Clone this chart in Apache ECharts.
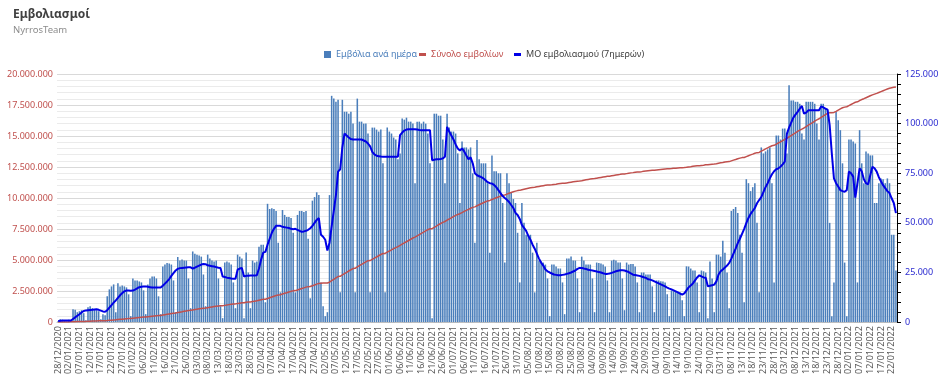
<!DOCTYPE html>
<html><head><meta charset="utf-8">
<script src="https://cdn.jsdelivr.net/npm/echarts@6/dist/echarts.min.js"></script>
<style>html,body{margin:0;padding:0;background:#fff}#c{width:945px;height:377px}</style>
</head><body><div id="c"></div>
<script>
// First date of the daily series (28/12/2020), one category per day
const START_DATE = [2020, 11, 28];

// Daily vaccinations (thousands), Monday..Sunday per row
const dailyK = [
 0.5,1.5,1.2,1.0,0.3,1.2,0.2,
 6.5,6.2,5.0,5.5,6.0,4.5,1.0,
 7.5,8.0,7.0,6.5,6.0,5.5,1.5,
 4.0,3.5,13.0,16.5,18.0,19.0,5.0,
 19.6,18.0,18.5,18.0,17.5,14.0,3.0,
 22.0,21.0,21.0,20.5,20.0,16.0,4.0,
 19.0,22.0,23.0,23.0,22.0,13.0,4.0,
 28.0,29.0,29.8,29.5,29.0,21.0,5.0,
 32.8,31.0,31.5,31.0,31.0,22.0,7.0,
 35.6,34.5,34.0,33.5,33.0,24.0,8.0,
 34.0,32.0,31.0,30.5,31.0,22.0,8.0,
 2.0,30.0,30.5,30.0,29.0,20.0,7.0,
 34.0,33.0,32.0,2.0,35.1,25.0,7.0,
 31.0,30.0,30.6,38.0,39.0,39.0,10.0,
 59.6,57.0,57.4,57.0,56.0,40.0,15.0,
 56.5,54.0,53.0,53.0,52.4,45.0,15.0,
 54.0,56.0,56.0,55.5,56.0,42.0,12.0,
 61.2,63.0,65.4,64.0,20.0,8.0,3.0,
 5.0,64.0,114.0,112.6,111.0,112.0,15.0,
 112.0,106.0,106.0,105.0,106.0,100.0,15.0,
 112.6,101.0,101.0,100.0,100.0,95.0,15.0,
 98.0,98.0,97.0,96.0,97.0,80.0,15.0,
 98.0,96.0,95.0,93.0,92.0,82.0,85.0,
 102.6,102.0,103.0,101.0,101.0,100.0,70.0,
 101.0,101.0,100.0,101.0,100.0,95.0,80.0,
 2.0,105.0,105.0,104.0,104.0,92.0,70.0,
 105.0,98.0,96.0,96.0,95.0,85.0,60.0,
 91.0,88.0,88.0,87.0,88.0,75.0,40.0,
 91.7,82.0,80.0,80.0,80.0,70.0,35.0,
 84.0,76.0,76.0,75.0,75.0,60.0,30.0,
 75.0,70.0,65.0,62.0,60.0,45.0,20.0,
 60.0,50.0,44.0,44.0,44.0,35.0,15.0,
 40.0,31.0,30.6,30.0,29.0,22.0,3.0,
 29.0,29.0,28.0,27.0,27.0,20.0,4.0,
 32.0,32.0,33.0,31.0,31.0,22.0,5.0,
 33.0,31.0,29.0,29.0,29.0,22.0,5.0,
 30.0,29.8,29.5,29.0,28.0,21.0,5.0,
 31.0,31.4,31.0,30.0,30.0,22.0,6.0,
 30.0,29.0,29.3,29.3,28.0,20.0,5.0,
 25.0,25.0,24.0,24.0,24.0,18.0,5.0,
 21.0,21.0,20.6,20.5,20.0,14.0,3.0,
 16.0,15.6,15.5,15.0,15.0,11.0,3.0,
 28.1,28.0,27.0,26.0,26.0,20.0,5.0,
 26.0,25.6,25.0,2.0,30.6,22.0,5.0,
 34.0,34.0,33.0,41.0,35.0,25.0,7.0,
 56.0,57.0,58.0,55.0,44.0,35.0,10.0,
 72.0,70.0,66.0,68.0,70.0,50.0,15.0,
 88.0,85.0,86.0,87.0,88.0,70.0,20.0,
 94.0,94.0,92.0,97.5,97.5,85.0,119.3,
 111.7,111.7,111.0,111.0,110.0,95.0,92.0,
 111.0,111.0,111.0,111.0,110.0,100.0,92.0,
 110.0,110.0,107.6,107.0,50.0,3.0,20.0,
 106.0,101.7,96.7,80.0,30.0,3.0,92.0,
 92.0,91.0,90.0,20.0,96.7,80.0,70.0,
 86.0,85.0,84.0,84.0,60.0,60.0,70.0,
 72.4,72.0,70.0,72.4,70.0,44.0,44.0,
 26.0
];

// 7-day average (thousands)
const avg7K = [
 0.5,0.7,0.8,0.8,0.8,0.8,0.8,
 1.6,2.4,3.2,4.0,4.9,5.6,5.9,
 6.0,6.1,6.2,6.4,6.5,6.2,5.8,
 5.4,5.2,6.0,7.3,8.6,9.8,10.9,
 12.2,13.5,14.6,15.5,15.9,15.9,15.8,
 15.9,16.4,17.0,17.6,17.8,17.9,18.0,
 17.8,17.6,17.4,17.4,17.5,17.4,17.4,
 18.3,19.4,20.5,21.7,23.3,24.7,26.0,
 26.8,27.2,27.3,27.4,27.5,27.6,27.6,
 27.0,27.4,28.0,28.5,29.0,29.3,29.2,
 28.6,28.4,28.2,28.0,27.7,27.4,27.3,
 23.0,22.7,22.4,22.2,22.0,21.9,21.9,
 26.4,27.0,27.3,23.0,23.3,23.4,23.5,
 23.5,23.5,23.6,27.0,31.5,35.0,35.4,
 39.0,42.0,45.0,47.0,48.5,48.6,48.5,
 48.0,47.8,47.6,47.4,47.0,46.8,47.0,
 46.5,46.0,45.5,45.7,46.0,46.5,47.3,
 48.5,50.0,51.5,52.4,44.0,43.0,41.5,
 36.1,40.0,48.2,56.0,64.0,75.8,77.0,
 88.0,95.0,94.0,93.0,92.2,92.0,92.0,
 92.0,92.0,92.0,91.5,91.0,90.0,88.5,
 85.8,84.5,83.8,83.6,83.4,83.3,83.3,
 83.3,83.3,83.3,83.3,83.3,83.3,94.2,
 95.5,96.5,97.0,97.2,97.2,97.2,97.2,
 97.0,96.8,96.7,96.7,96.7,96.7,96.7,
 81.6,81.8,82.0,82.1,82.2,82.5,83.3,
 98.4,96.0,94.0,92.0,89.5,87.5,86.5,
 87.5,86.0,84.0,82.1,83.0,80.0,75.0,
 74.0,73.5,73.0,72.4,71.5,70.5,70.0,
 69.8,69.1,68.0,66.5,65.0,63.5,62.5,
 61.6,60.5,59.0,57.5,55.0,54.0,52.0,
 49.0,47.5,46.0,43.5,41.5,39.0,37.0,
 34.5,32.0,30.0,28.5,26.5,25.6,25.0,
 24.5,24.0,23.8,23.6,23.6,23.8,24.0,
 24.3,24.6,25.0,25.5,26.0,26.8,27.3,
 27.3,27.0,26.8,26.4,26.2,26.0,25.8,
 25.5,25.2,25.0,24.6,24.3,24.3,24.5,
 24.8,25.2,25.6,25.9,26.1,26.1,26.0,
 25.6,25.2,24.5,23.9,23.7,23.5,23.3,
 23.0,22.6,22.3,21.6,21.4,21.0,20.5,
 20.0,19.5,19.0,18.5,18.0,17.4,16.9,
 16.5,16.0,15.5,15.0,14.4,13.9,14.5,
 16.0,17.5,18.5,19.5,21.0,22.5,23.6,
 23.0,22.5,22.3,18.1,18.3,18.6,18.9,
 20.5,24.0,25.6,26.5,27.5,28.5,29.8,
 32.0,34.5,37.0,39.8,42.0,44.5,47.0,
 49.9,52.5,54.5,56.0,57.5,59.9,61.5,
 63.0,65.5,68.0,70.0,72.4,74.5,76.0,
 77.0,77.5,78.3,79.5,80.8,95.0,98.0,
 100.5,103.0,104.5,105.9,107.5,108.9,105.0,
 105.5,106.7,106.7,106.7,106.7,106.7,106.7,
 108.7,108.2,107.6,107.0,99.2,85.0,72.4,
 70.0,68.3,66.5,66.0,65.7,66.5,75.8,
 75.0,73.3,62.7,70.0,77.5,76.0,72.0,
 70.0,69.4,74.0,78.3,77.5,75.8,73.0,
 71.0,69.0,67.5,66.0,65.0,62.4,60.0,
 54.9
];

// Cumulative total (millions)
const totalM = [
 0.00,0.00,0.01,0.01,0.01,0.01,0.02,
 0.02,0.03,0.04,0.04,0.05,0.06,0.06,
 0.07,0.08,0.09,0.09,0.10,0.11,0.11,
 0.12,0.12,0.13,0.15,0.16,0.18,0.19,
 0.21,0.23,0.24,0.26,0.28,0.29,0.30,
 0.32,0.34,0.36,0.38,0.40,0.42,0.42,
 0.44,0.46,0.48,0.50,0.52,0.53,0.54,
 0.57,0.60,0.63,0.66,0.69,0.72,0.74,
 0.77,0.80,0.83,0.87,0.90,0.93,0.95,
 0.98,1.01,1.04,1.07,1.10,1.12,1.13,
 1.16,1.19,1.22,1.25,1.28,1.30,1.31,
 1.32,1.35,1.38,1.41,1.44,1.46,1.47,
 1.50,1.53,1.56,1.56,1.60,1.62,1.63,
 1.66,1.69,1.72,1.76,1.80,1.84,1.85,
 1.91,1.97,2.03,2.09,2.15,2.19,2.21,
 2.27,2.32,2.37,2.43,2.48,2.52,2.54,
 2.59,2.65,2.71,2.76,2.82,2.86,2.87,
 2.93,2.99,3.06,3.12,3.14,3.15,3.15,
 3.16,3.22,3.34,3.45,3.56,3.67,3.69,
 3.80,3.91,4.01,4.12,4.22,4.32,4.34,
 4.45,4.55,4.65,4.75,4.85,4.95,4.96,
 5.06,5.16,5.25,5.35,5.45,5.53,5.54,
 5.64,5.73,5.83,5.92,6.01,6.09,6.18,
 6.28,6.38,6.48,6.58,6.68,6.78,6.85,
 6.95,7.05,7.15,7.25,7.35,7.45,7.53,
 7.53,7.64,7.74,7.85,7.95,8.04,8.11,
 8.22,8.31,8.41,8.50,8.60,8.68,8.74,
 8.83,8.92,9.01,9.09,9.18,9.25,9.29,
 9.38,9.46,9.54,9.62,9.70,9.77,9.81,
 9.88,9.95,10.02,10.09,10.16,10.22,10.25,
 10.32,10.39,10.45,10.51,10.56,10.60,10.62,
 10.67,10.71,10.75,10.79,10.83,10.86,10.87,
 10.91,10.94,10.97,11.00,11.03,11.05,11.05,
 11.07,11.10,11.12,11.15,11.17,11.19,11.19,
 11.22,11.25,11.28,11.31,11.34,11.36,11.37,
 11.40,11.44,11.47,11.50,11.53,11.56,11.57,
 11.60,11.63,11.66,11.69,11.72,11.75,11.76,
 11.79,11.82,11.85,11.88,11.91,11.93,11.94,
 11.97,12.00,12.03,12.05,12.08,12.10,12.11,
 12.13,12.16,12.18,12.20,12.22,12.24,12.25,
 12.27,12.29,12.31,12.33,12.35,12.36,12.37,
 12.38,12.40,12.41,12.43,12.44,12.45,12.46,
 12.48,12.51,12.53,12.56,12.58,12.60,12.61,
 12.63,12.65,12.68,12.68,12.71,12.73,12.74,
 12.77,12.81,12.84,12.87,12.91,12.93,12.94,
 13.00,13.06,13.11,13.17,13.22,13.26,13.27,
 13.34,13.41,13.48,13.54,13.61,13.66,13.68,
 13.78,13.87,13.96,14.05,14.14,14.22,14.25,
 14.34,14.44,14.53,14.63,14.73,14.81,14.93,
 15.04,15.15,15.26,15.37,15.47,15.56,15.65,
 15.76,15.87,15.98,16.09,16.20,16.30,16.39,
 16.50,16.61,16.72,16.83,16.88,16.88,16.90,
 16.99,17.09,17.19,17.28,17.33,17.36,17.45,
 17.54,17.63,17.72,17.76,17.86,17.94,18.01,
 18.09,18.17,18.25,18.32,18.38,18.44,18.51,
 18.58,18.65,18.72,18.79,18.85,18.89,18.93,
 18.96
];

const LEFT_TICKS = { min: 0, max: 20000000, interval: 2500000 };
const RIGHT_TICKS = { min: 0, max: 125000, interval: 5000, labelEvery: 25000 };

const SERIES_NAMES = ['Εμβόλια ανά ημέρα', 'Σύνολο εμβολίων', 'ΜΟ εμβολιασμού (7ημερών)'];
const TITLE = 'Εμβολιασμοί';
const SUBTITLE = 'NyrrosTeam';

// ---- build ----
function pad(n){ return n < 10 ? '0' + n : '' + n; }
const categories = [];
for (let i = 0; i < dailyK.length; i++) {
  const d = new Date(START_DATE[0], START_DATE[1], START_DATE[2] + i);
  categories.push(pad(d.getDate()) + '/' + pad(d.getMonth() + 1) + '/' + d.getFullYear());
}
const daily = dailyK.map(v => Math.round(v * 1000));
const avg7 = avg7K.map(v => Math.round(v * 1000));
const total = totalM.map(v => Math.round(v * 1000000));

function dots(v){ return String(Math.round(v)).replace(/\B(?=(\d{3})+(?!\d))/g, '.'); }

const FONT = 'Noto Sans';
const chart = echarts.init(document.getElementById('c'), null, { renderer: 'canvas' });
chart.setOption({
  animation: false,
  backgroundColor: '#fff',
  textStyle: { fontFamily: FONT },
  title: {
    text: TITLE, subtext: SUBTITLE, left: 8, top: 4, itemGap: 4,
    textStyle: { fontFamily: FONT, fontSize: 12, fontWeight: 'bold', color: '#404040' },
    subtextStyle: { fontFamily: FONT, fontSize: 9.5, color: '#8c8c8c' }
  },
  legend: [
    { data: [{ name: SERIES_NAMES[0], textStyle: { color: '#4a7ebb' } }], left: 319, top: 45,
      icon: 'rect', itemWidth: 7, itemHeight: 7, textStyle: { fontFamily: FONT, fontSize: 9 } },
    { data: [{ name: SERIES_NAMES[1], textStyle: { color: '#c0504d' } }], left: 414, top: 45,
      icon: 'rect', itemWidth: 7, itemHeight: 3, textStyle: { fontFamily: FONT, fontSize: 9 } },
    { data: [{ name: SERIES_NAMES[2], textStyle: { color: '#404040' } }], left: 509, top: 45,
      icon: 'rect', itemWidth: 7, itemHeight: 3, textStyle: { fontFamily: FONT, fontSize: 9 } }
  ],
  grid: { left: 57, right: 48, top: 74, bottom: 54, containLabel: false },
  xAxis: {
    type: 'category', data: categories, boundaryGap: true,
    axisLine: { show: true, lineStyle: { color: '#bfbfbf' } },
    axisTick: { show: false },
    axisLabel: { interval: 4, rotate: 90, fontSize: 9, color: '#595959', margin: 4, fontFamily: FONT }
  },
  yAxis: [
    { type: 'value', position: 'left', min: LEFT_TICKS.min, max: LEFT_TICKS.max, interval: LEFT_TICKS.interval,
      axisLine: { show: false }, axisTick: { show: false },
      axisLabel: { color: '#c0504d', fontSize: 9, margin: 4, formatter: v => dots(v), fontFamily: FONT },
      splitLine: { show: true, lineStyle: { color: '#d9d9d9', width: 1 } },
      minorTick: { show: false, splitNumber: 5 },
      minorSplitLine: { show: true, lineStyle: { color: '#ebebeb', width: 1 } }
    },
    { type: 'value', position: 'right', min: RIGHT_TICKS.min, max: RIGHT_TICKS.max, interval: RIGHT_TICKS.interval,
      axisLine: { show: true, lineStyle: { color: '#000' } },
      axisTick: { show: true, length: 4, lineStyle: { color: '#000' } },
      axisLabel: { color: '#2b2bd0', fontSize: 9, margin: 8, fontFamily: FONT,
        formatter: v => (v % RIGHT_TICKS.labelEvery === 0 ? dots(v) : '') },
      splitLine: { show: false }
    }
  ],
  series: [
    { name: SERIES_NAMES[0], type: 'bar', yAxisIndex: 1, data: daily,
      barCategoryGap: '28%', itemStyle: { color: '#4a7ebb' } },
    { name: SERIES_NAMES[1], type: 'line', yAxisIndex: 0, data: total, symbol: 'none',
      lineStyle: { color: '#c0504d', width: 1.5 }, itemStyle: { color: '#c0504d' } },
    { name: SERIES_NAMES[2], type: 'line', yAxisIndex: 1, data: avg7, symbol: 'none',
      lineStyle: { color: '#0000e6', width: 2 }, itemStyle: { color: '#0000e6' } }
  ]
});
</script>
</body></html>
